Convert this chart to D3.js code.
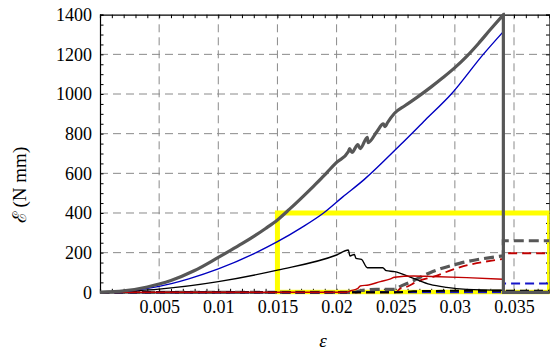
<!DOCTYPE html>
<html>
<head>
<meta charset="utf-8">
<script src="https://cdn.jsdelivr.net/npm/d3@7"></script>
<style>
  body { margin: 0; background: #fff; }
  text { font-family: "Liberation Serif", "DejaVu Serif", serif; }
</style>
</head>
<body>
<div id="chart"></div>
<script>
// Tick labels
const xTicks = [0.005, 0.01, 0.015, 0.02, 0.025, 0.03, 0.035];
const xTickLabels = ['0.005', '0.01', '0.015', '0.02', '0.025', '0.03', '0.035'];
const yTicks = [0, 200, 400, 600, 800, 1000, 1200, 1400];

// Series, [strain, energy] pairs
const totalEnergy = [[0, 0], [0.002, 7], [0.004, 27], [0.005, 42], [0.006, 60], [0.008, 110], [0.010, 176],
  [0.011, 210], [0.012, 245], [0.013, 282], [0.014, 322], [0.015, 365], [0.016, 418], [0.017, 474],
  [0.018, 532], [0.019, 592], [0.0194, 618], [0.020, 655], [0.0210, 710], [0.0211, 725], [0.0213, 705],
  [0.0218, 745], [0.0220, 725], [0.0226, 782], [0.02266, 755], [0.0234, 810], [0.02395, 849],
  [0.0241, 835], [0.0243, 855], [0.0249, 903], [0.0258, 942], [0.0268, 983], [0.028, 1036], [0.029, 1083],
  [0.030, 1133], [0.031, 1190], [0.032, 1255], [0.033, 1325], [0.0341, 1400], [0.0341, 0], [0.038, 0]];
const strainEnergy = [[0, 0], [0.0025, 8], [0.005, 30], [0.0075, 68], [0.010, 118], [0.0132, 200],
  [0.015, 255], [0.017, 325], [0.0189, 400], [0.0205, 480], [0.0223, 567], [0.0254, 744],
  [0.0275, 869], [0.0297, 1000], [0.0324, 1200], [0.0341, 1315], [0.0341, 0], [0.038, 0]];
const kineticEnergy = [[0, 0], [0.005, 16], [0.010, 54], [0.015, 112], [0.020, 188], [0.0210, 213],
  [0.02113, 183], [0.0215, 191], [0.02164, 171], [0.0221, 166], [0.0226, 124], [0.0239, 124],
  [0.0242, 109], [0.0249, 104], [0.0265, 70], [0.0279, 40], [0.0293, 25], [0.031, 15], [0.0341, 10],
  [0.0341, 0], [0.038, 0]];
const fractureEnergy = [[0, 0], [0.0208, 0], [0.0212, 8], [0.0218, 20], [0.022, 32], [0.0227, 37],
  [0.0237, 54], [0.0245, 66], [0.0249, 76], [0.0265, 82], [0.028, 80], [0.031, 74], [0.0341, 66],
  [0.0341, 0], [0.038, 0]];
const totalDissipated = [[0, 0], [0.0215, 0], [0.022, 8], [0.0234, 15], [0.0249, 15], [0.0254, 30],
  [0.0262, 50], [0.0268, 68], [0.0279, 99], [0.0304, 146], [0.0341, 184], [0.0341, 260], [0.038, 260]];
const fractureDissipated = [[0, 0], [0.025, 0], [0.0254, 20], [0.0258, 25], [0.0268, 54], [0.0282, 79],
  [0.0304, 126], [0.0341, 168], [0.0341, 197], [0.038, 197]];
const strainDissipated = [[0, 0], [0.0341, 0], [0.0341, 45], [0.038, 45]];
const kineticDissipated = [[0, 0], [0.025, 0], [0.0265, 5], [0.028, 7], [0.0341, 8], [0.038, 8]];

// Yellow window: strain 0.015 to 0.038, energy 0 to 400
const windowX = [0.015, 0.038];
const windowY = [0, 400];

const width = 550, height = 351;
const margin = { top: 14.7, right: 0.5, bottom: 58.7, left: 100 };

const svg = d3.select('#chart').append('svg')
  .attr('width', width)
  .attr('height', height);

const x = d3.scaleLinear().domain([0, 0.038]).range([margin.left, width - margin.right]);
const y = d3.scaleLinear().domain([0, 1400]).range([height - margin.bottom, margin.top]);

svg.append('defs').append('clipPath').attr('id', 'clip')
  .append('rect')
  .attr('x', x(0)).attr('y', y(1400) - 2)
  .attr('width', x(0.038) - x(0)).attr('height', y(0) - y(1400) + 4);

// Grid
const grid = svg.append('g')
  .attr('stroke', '#8a8a8a')
  .attr('stroke-width', 1)
  .attr('stroke-dasharray', '8,5');
grid.selectAll('.vg').data(xTicks).join('line')
  .attr('x1', d => x(d)).attr('x2', d => x(d))
  .attr('y1', y(0)).attr('y2', y(1400));
grid.selectAll('.hg').data(yTicks.slice(1, -1)).join('line')
  .attr('x1', x(0)).attr('x2', x(0.038))
  .attr('y1', d => y(d)).attr('y2', d => y(d));

// Axes, ticks pointing inside
const minorY = d3.range(0, 1401, 50);
const minorX = d3.range(0, 0.0381, 0.001);
svg.append('g').attr('transform', `translate(${x(0)},0)`)
  .call(d3.axisLeft(y).tickValues(minorY).tickSize(-3.5).tickFormat(''));
svg.append('g').attr('transform', `translate(${x(0.038)},0)`)
  .call(d3.axisRight(y).tickValues(minorY).tickSize(-3.5).tickFormat(''));
svg.append('g').attr('transform', `translate(0,${y(0)})`)
  .call(d3.axisBottom(x).tickValues(minorX).tickSize(-3.5).tickFormat(''));
svg.append('g').attr('transform', `translate(0,${y(1400)})`)
  .call(d3.axisTop(x).tickValues(minorX).tickSize(-3.5).tickFormat(''));
svg.selectAll('.domain').attr('stroke', '#000').attr('stroke-width', 1.2);

// Tick labels
svg.append('g').attr('transform', `translate(${x(0)},0)`)
  .call(d3.axisLeft(y).tickValues(yTicks).tickSize(0).tickPadding(8).tickFormat(d3.format('d')))
  .call(g => g.select('.domain').remove())
  .selectAll('text').attr('font-size', 18).attr('fill', '#000')
  .attr('font-family', '"Liberation Serif", serif');
svg.append('g').attr('transform', `translate(0,${y(0)})`)
  .call(d3.axisBottom(x).tickValues(xTicks).tickSize(0).tickPadding(8)
    .tickFormat((d, i) => xTickLabels[i]))
  .call(g => g.select('.domain').remove())
  .selectAll('text').attr('font-size', 18).attr('fill', '#000')
  .attr('font-family', '"Liberation Serif", serif');

// Axis titles
svg.append('text')
  .attr('transform', 'translate(26,185) rotate(-90)')
  .attr('text-anchor', 'middle')
  .attr('font-size', 19)
  .text('ℰ (N mm)');
svg.append('text')
  .attr('x', 323).attr('y', 347)
  .attr('text-anchor', 'middle')
  .attr('font-size', 19)
  .attr('font-style', 'italic')
  .text('ε');

const plot = svg.append('g').attr('clip-path', 'url(#clip)');

// Yellow window
plot.append('rect')
  .attr('x', x(windowX[0])).attr('y', y(windowY[1]))
  .attr('width', x(windowX[1]) - x(windowX[0]))
  .attr('height', y(windowY[0]) - y(windowY[1]))
  .attr('fill', 'none')
  .attr('stroke', '#ffff00')
  .attr('stroke-width', 5);

// Smooth runs, joined by straight segments where the strain repeats (the jump at failure)
const smooth = d3.line().x(d => x(d[0])).y(d => y(d[1])).curve(d3.curveMonotoneX);
function pathWithJumps(data) {
  const runs = [[data[0]]];
  for (let i = 1; i < data.length; i++) {
    if (data[i][0] === data[i - 1][0]) runs.push([data[i]]);
    else runs[runs.length - 1].push(data[i]);
  }
  return runs.map((r, i) => {
    const p = r.length > 1 ? smooth(r) : `M${x(r[0][0])},${y(r[0][1])}`;
    return i === 0 ? p : 'L' + p.slice(1);
  }).join('');
}

const series = [
  { data: totalDissipated, color: '#575757', width: 3.2, dash: '10,5' },
  { data: fractureDissipated, color: '#c00000', width: 1.8, dash: '9,5' },
  { data: strainDissipated, color: '#1515c8', width: 2, dash: '9,5' },
  { data: kineticDissipated, color: '#000000', width: 2, dash: '9,5' },
  { data: kineticEnergy, color: '#000000', width: 1.4, dash: null },
  { data: fractureEnergy, color: '#c00000', width: 1.4, dash: null },
  { data: strainEnergy, color: '#0000c0', width: 1.4, dash: null },
  { data: totalEnergy, color: '#575757', width: 3.2, dash: null }
];

plot.selectAll('.series').data(series).join('path')
  .attr('d', d => pathWithJumps(d.data))
  .attr('fill', 'none')
  .attr('stroke', d => d.color)
  .attr('stroke-width', d => d.width)
  .attr('stroke-dasharray', d => d.dash)
  .attr('stroke-linejoin', 'miter');
</script>
</body>
</html>
